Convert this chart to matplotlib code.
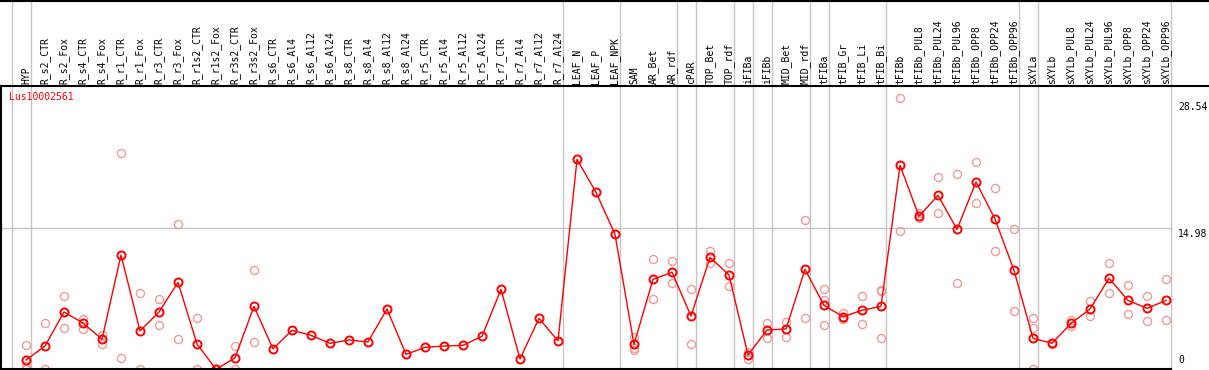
import matplotlib
matplotlib.use("Agg")
import matplotlib.pyplot as plt
import matplotlib.transforms as mtransforms
import numpy as np

categories = ["HYP", "R_s2_CTR", "R_s2_Fox", "R_s4_CTR", "R_s4_Fox", "R_r1_CTR", "R_r1_Fox",
              "R_r3_CTR", "R_r3_Fox", "R_r1s2_CTR", "R_r1s2_Fox", "R_r3s2_CTR", "R_r3s2_Fox",
              "R_s6_CTR", "R_s6_Al4", "R_s6_Al12", "R_s6_Al24", "R_s8_CTR", "R_s8_Al4",
              "R_s8_Al12", "R_s8_Al24", "R_r5_CTR", "R_r5_Al4", "R_r5_Al12", "R_r5_Al24",
              "R_r7_CTR", "R_r7_Al4", "R_r7_Al12", "R_r7_Al24", "LEAF_N", "LEAF_P", "LEAF_NPK",
              "SAM", "AR_Bet", "AR_rdf", "cPAR", "TOP_Bet", "TOP_rdf", "iFIBa", "iFIBb",
              "MID_Bet", "MID_rdf", "tFIBa", "tFIB_Gr", "tFIB_Li", "tFIB_Bi", "tFIBb",
              "tFIBb_PUL8", "tFIBb_PUL24", "tFIBb_PUL96", "tFIBb_OPP8", "tFIBb_OPP24",
              "tFIBb_OPP96", "sXYLa", "sXYLb", "sXYLb_PUL8", "sXYLb_PUL24", "sXYLb_PUL96",
              "sXYLb_OPP8", "sXYLb_OPP24", "sXYLb_OPP96"]

means = [1.24, 2.70, 6.25, 5.10, 3.40, 12.19, 4.27, 6.25, 9.34, 2.91, 0.27, 1.46, 6.84,
         2.40, 4.34, 3.82, 2.98, 3.33, 3.12, 6.56, 1.83, 2.56, 2.70, 2.77, 3.71, 8.61, 1.35,
         5.59, 3.23, 22.17, 18.73, 14.35, 2.88, 9.65, 10.39, 5.83, 11.95, 10.11, 1.76, 4.37,
         4.47, 10.70, 6.94, 5.76, 6.42, 6.84, 21.55, 16.23, 18.42, 14.87, 19.81, 15.95,
         10.59, 3.50, 2.98, 5.06, 6.56, 9.76, 7.46, 6.63, 7.46]

replicates = [[2.78, 0.60, 0.35], [5.10, 0.27], [7.88, 4.58], [5.55, 4.51], [3.88, 2.91],
              [22.80, 1.46], [8.19, 0.27], [7.57, 4.86], [15.39, 3.40], [5.59, 0.27],
              [0.27, 0.27], [2.66, 0.27], [10.60, 3.09],
              [], [], [], [], [], [], [], [], [], [], [], [], [], [], [], [],
              [], [], [],
              [3.68, 2.45, 2.25], [11.74, 7.57], [11.53, 9.24], [8.61, 2.88], [12.61, 11.33],
              [11.36, 8.93], [2.11, 1.31], [5.10, 3.50], [5.20, 3.68], [15.81, 5.59],
              [8.61, 7.50, 4.86], [6.10, 5.55, 5.65], [7.88, 4.96], [8.54, 8.44, 3.50],
              [28.54, 14.66], [16.61, 16.02], [20.29, 16.54], [20.60, 9.24], [21.90, 17.59],
              [19.15, 12.58], [14.87, 6.35], [5.59, 4.61, 0.27], [3.00, 2.95], [5.41, 4.75],
              [7.39, 5.79], [11.36, 8.23], [9.03, 6.04], [7.88, 5.31], [9.65, 5.41]]

group_ends = [-1, 0, 28, 31, 34, 35, 37, 38, 39, 41, 42, 45, 52, 53, 60]
y_ticks = [0, 14.98, 28.54]
y_tick_labels = ["0", "14.98", "28.54"]
gene = "Lus10002561"

W, H = 1209, 370
HEADER = 86
fig = plt.figure(figsize=(W / 100, H / 100), dpi=100)
mono = "DejaVu Sans Mono"
fs = 7

xlim = (-26 / 19, (W - 26) / 19)
ax = fig.add_axes([0, 0, 1, (H - HEADER) / H])
hax = fig.add_axes([0, (H - HEADER) / H, 1, HEADER / H])
for a in (ax, hax):
    a.set_xlim(*xlim)
    a.set_xticks([])
    a.set_yticks([])
    for s in a.spines.values():
        s.set_visible(False)

ax.set_ylim((371.9 - H) / 9.587, (371.9 - HEADER) / 9.587)
hax.set_ylim(0, 1)

gray = "#c4c4c4"
for g in group_ends:
    for a in (ax, hax):
        a.axvline(g + 0.24, color=gray, lw=1.0, zorder=1)

ax.plot([xlim[0], group_ends[-1] + 0.24], [y_ticks[1], y_ticks[1]], color=gray, lw=1.0, zorder=1)

x = np.arange(len(categories))
rx = [i for i, r in enumerate(replicates) for _ in r]
ry = [v for r in replicates for v in r]
ax.plot(rx, ry, linestyle="none", marker="o", markersize=5.8, markerfacecolor="none",
        markeredgecolor="#f09a9a", markeredgewidth=1.0, zorder=2, clip_on=True)
ax.plot(x, means, color="#ff0000", lw=1.0, marker="o", markersize=5.8,
        markerfacecolor="none", markeredgecolor="#ff0000", markeredgewidth=1.4, zorder=3)

for i, c in enumerate(categories):
    hax.text(i, 2.5 / HEADER, c, rotation=90, ha="center", va="bottom",
             fontsize=fs, family=mono, color="black")

ax.text(9 / W, 1 - 6 / (H - HEADER), gene, transform=ax.transAxes, ha="left", va="top",
        fontsize=fs, family=mono, color="#ff0000")

trans = mtransforms.blended_transform_factory(ax.transAxes, ax.transData)
offs = {"0": (7, "bottom"), "14.98": (-1, "top"), "28.54": (-4, "top")}
for v, lab in zip(y_ticks, y_tick_labels):
    dy, va = offs[lab]
    t = trans + mtransforms.ScaledTranslation(0, dy / 100, fig.dpi_scale_trans)
    ax.text(1178 / W, v, lab, transform=t, ha="left", va=va, fontsize=fs, family=mono,
            color="black")

# frame lines
fig.add_artist(plt.Line2D([0, 1], [1 - 0.5 / H, 1 - 0.5 / H], color="black", lw=1.5,
                          transform=fig.transFigure))
fig.add_artist(plt.Line2D([0, 1], [1 - HEADER / H, 1 - HEADER / H], color="black", lw=1.5,
                          transform=fig.transFigure))
fig.add_artist(plt.Line2D([0, 1171 / W], [1 / H, 1 / H], color="black", lw=1.5,
                          transform=fig.transFigure))
fig.add_artist(plt.Line2D([1 / W, 1 / W], [0, 1 - HEADER / H], color="black", lw=1.5,
                          transform=fig.transFigure))

fig.savefig("out.png", dpi=100)
